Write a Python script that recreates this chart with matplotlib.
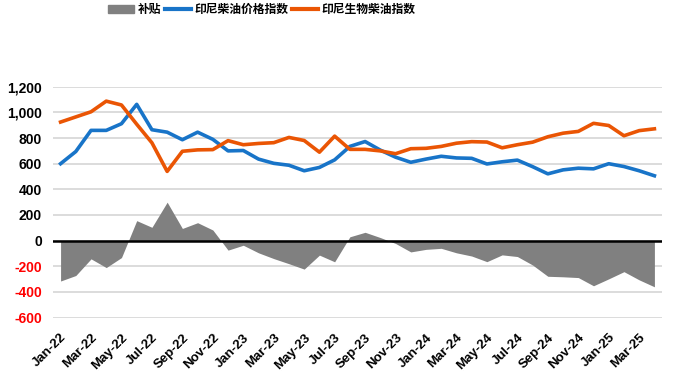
import numpy as np
import matplotlib
matplotlib.use("Agg")
import matplotlib.pyplot as plt
from matplotlib.patches import Patch
from matplotlib.lines import Line2D

plt.rcParams['font.family'] = ['Liberation Sans', 'Noto Sans CJK SC', 'DejaVu Sans']

# monthly, Jan-22 .. Apr-25
months = ['Jan', 'Feb', 'Mar', 'Apr', 'May', 'Jun', 'Jul', 'Aug', 'Sep', 'Oct', 'Nov', 'Dec']
labels = [f"{months[k % 12]}-{22 + k // 12}" for k in range(40)]

diesel = [600, 695, 860, 860, 912, 1063, 865, 846, 787, 846,
          790, 700, 703, 636, 603, 588, 545, 571, 630, 735,
          773, 706, 651, 611, 636, 658, 645, 642, 598, 615,
          628, 577, 521, 552, 565, 560, 600, 578, 545, 506]

biodiesel = [925, 965, 1005, 1088, 1058, 908, 763, 540, 697, 708,
             710, 780, 748, 758, 764, 805, 781, 690, 815, 712,
             712, 700, 678, 717, 720, 735, 760, 772, 769, 724,
             748, 768, 810, 838, 852, 915, 898, 818, 858, 872]

subsidy = [-315, -272, -142, -210, -132, 156, 104, 300, 95, 140,
           83, -74, -36, -95, -140, -180, -222, -113, -165, 30,
           65, 24, -22, -88, -68, -60, -95, -120, -164, -111,
           -124, -190, -278, -282, -288, -352, -298, -242, -306, -360]

yticks = list(range(-600, 1201, 200))

x = np.arange(len(labels))

fig = plt.figure(figsize=(6.79, 3.84), dpi=100)
ax = fig.add_axes([0.078, 0.173, 0.897, 0.601])

ax.fill_between(x, 0, subsidy, color='#808080', lw=0, zorder=2)
ax.plot(x, diesel, color='#1874C8', lw=2.6, zorder=4)
ax.plot(x, biodiesel, color='#EA5504', lw=2.6, zorder=4)
ax.axhline(0, color='black', lw=1.8, zorder=3)

ax.set_xlim(-0.5, len(labels) - 0.5)
ax.set_ylim(-600, 1200)
ax.set_yticks(yticks)
ax.set_yticklabels([f"{v:,}" for v in yticks])
for lab, v in zip(ax.get_yticklabels(), yticks):
    lab.set_color('red' if v < 0 else 'black')
    lab.set_fontweight('bold')
    lab.set_fontsize(10)

ax.set_xticks(x[::2])
ax.set_xticklabels(labels[::2], rotation=45, ha='right', va='top',
                   rotation_mode='anchor', fontsize=9.5, fontweight='bold')
ax.tick_params(axis='both', length=0)
ax.tick_params(axis='x', pad=10)
ax.tick_params(axis='y', pad=8)

ax.grid(axis='y', color='#d9d9d9', lw=1.3, zorder=0)
ax.set_axisbelow(True)
for s in ax.spines.values():
    s.set_visible(False)

handles = [Patch(color='#808080'),
           Line2D([], [], color='#1874C8', lw=3),
           Line2D([], [], color='#EA5504', lw=3)]
names = ['补贴', '印尼柴油价格指数', '印尼生物柴油指数']
fig.legend(handles, names, loc='upper center', bbox_to_anchor=(262 / 679, 1.02),
           ncol=3, frameon=False, handlelength=2.2, handletextpad=0.3,
           columnspacing=0.3,
           prop={'family': ['Noto Sans CJK SC', 'DejaVu Sans'], 'weight': 'bold', 'size': 8.5})

fig.savefig('out.png', dpi=100)
